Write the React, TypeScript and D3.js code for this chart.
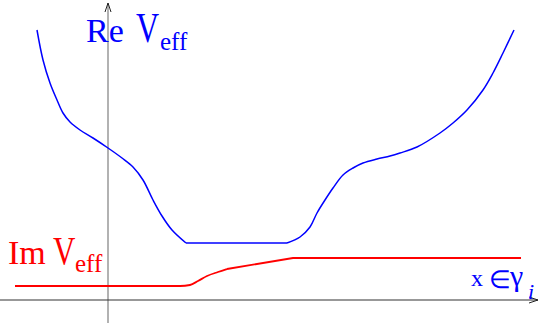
import React from "react";
import * as d3 from "d3";

// sketch of the effective potential along gamma_i (axis units: 0 at the axes crossing)
// Re V_eff: left wall, flat bottom, right wall
const reLeftX = [-0.71, -0.65, -0.58, -0.51, -0.45, -0.38, -0.28, -0.15, 0, 0.14, 0.25, 0.35, 0.45, 0.54, 0.64, 0.78];
const reLeftY = [2.7, 2.4, 2.17, 2.0, 1.87, 1.78, 1.7, 1.62, 1.52, 1.42, 1.33, 1.2, 1.0, 0.84, 0.7, 0.57];
const reFlatX = [0.78, 1.79];
const reFlatY = [0.57, 0.57];
const reRightX = [1.79, 1.92, 2.02, 2.09, 2.17, 2.25, 2.35, 2.45, 2.55, 2.69, 2.82, 2.92, 3.09, 3.32, 3.45, 3.59, 3.75, 3.85, 3.95, 4.06];
const reRightY = [0.57, 0.63, 0.73, 0.87, 1.0, 1.12, 1.25, 1.32, 1.37, 1.41, 1.44, 1.47, 1.53, 1.67, 1.77, 1.9, 2.1, 2.27, 2.47, 2.7];

// Im V_eff: flat, small bend, straight ramp, flat
const imBendX = [-0.93, 0.72, 0.82, 0.9, 0.99, 1.1, 1.19];
const imBendY = [0.14, 0.14, 0.15, 0.19, 0.24, 0.28, 0.31];
const imRampX = [1.19, 1.85, 4.13];
const imRampY = [0.31, 0.42, 0.42];

const xDomain = [-1.08, 4.37];
const yDomain = [-0.23, 3.0];

export default function App() {
  const width = 545;
  const height = 323;

  const x = d3.scaleLinear().domain(xDomain).range([0, width]);
  const y = d3.scaleLinear().domain(yDomain).range([height, 0]);

  const smooth = d3
    .line<[number, number]>()
    .x((d) => x(d[0]))
    .y((d) => y(d[1]))
    .curve(d3.curveCatmullRom.alpha(0.5));
  const monotone = d3
    .line<[number, number]>()
    .x((d) => x(d[0]))
    .y((d) => y(d[1]))
    .curve(d3.curveMonotoneX);
  const straight = d3
    .line<[number, number]>()
    .x((d) => x(d[0]))
    .y((d) => y(d[1]));

  const pts = (xs: number[], ys: number[]) => xs.map((v, i) => [v, ys[i]] as [number, number]);

  const rePaths = [
    smooth(pts(reLeftX, reLeftY)),
    straight(pts(reFlatX, reFlatY)),
    smooth(pts(reRightX, reRightY)),
  ];
  const imPaths = [monotone(pts(imBendX, imBendY)), straight(pts(imRampX, imRampY))];

  const x0 = x(0);
  const y0 = y(0);
  const serif = { fontFamily: "Liberation Serif" };

  return (
    <svg
      width={width}
      height={height}
      style={{ position: "absolute", left: 0, top: 0 }}
    >
      <rect width={width} height={height} fill="#fff" />
      {/* axes */}
      <line x1={x0} x2={x0} y1={height} y2={3} stroke="#999" strokeWidth={1.5} />
      <path d={`M${x0 - 3},${12} L${x0},${3} L${x0 + 3},${12}`} fill="none" stroke="#222" strokeWidth={1} />
      <line x1={0} x2={538} y1={y0} y2={y0} stroke="#333" strokeWidth={1.2} />
      <path d={`M${529},${y0 - 3} L${538},${y0} L${529},${y0 + 3}`} fill="none" stroke="#222" strokeWidth={1} />

      {/* curves */}
      {rePaths.map((d, i) => (
        <path key={`re${i}`} d={d || ""} fill="none" stroke="#0000ff" strokeWidth={1.5} strokeLinejoin="round" />
      ))}
      {imPaths.map((d, i) => (
        <path key={`im${i}`} d={d || ""} fill="none" stroke="#ff0000" strokeWidth={1.8} strokeLinejoin="round" />
      ))}

      {/* labels */}
      <text x={86} y={42} style={serif} fontSize={34} fill="#0000ff">Re</text>
      <text transform="translate(136,42) scale(1,1.3)" style={serif} fontSize={32} fill="#0000ff">V</text>
      <text x={160} y={50} style={serif} fontSize={25} fill="#0000ff">eff</text>

      <text x={8} y={264} style={serif} fontSize={34} fill="#ff0000">Im</text>
      <text transform="translate(53,264) scale(1,1.3)" style={serif} fontSize={31} fill="#ff0000">V</text>
      <text x={75} y={272} style={serif} fontSize={25} fill="#ff0000">eff</text>

      <text x={471} y={286} style={serif} fontSize={24} fill="#0000ff">x</text>
      <text x={489} y={288} style={serif} fontSize={25} fill="#0000ff">∈</text>
      <text x={510} y={286} style={serif} fontSize={30} fill="#0000ff">γ</text>
      <text x={528} y={299} style={serif} fontSize={22} fontStyle="italic" fill="#0000ff">i</text>
    </svg>
  );
}
